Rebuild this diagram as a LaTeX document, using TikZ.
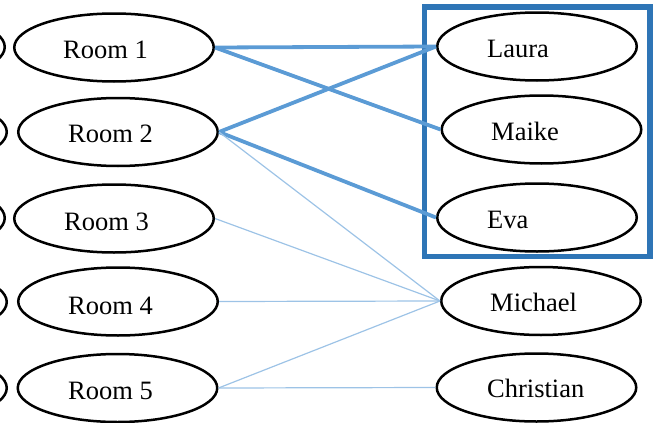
\documentclass[tikz,border=0pt]{standalone}
\usepackage{fontspec}
\setmainfont{Liberation Serif}
\usetikzlibrary{shapes.geometric}
\definecolor{thickblue}{HTML}{5B9BD5}
\definecolor{thinblue}{HTML}{9DC3E6}
\definecolor{boxblue}{HTML}{2E75B6}
\begin{document}
\begin{tikzpicture}[x=1pt,y=-1pt,
  oval/.style={ellipse, draw=black, line width=2.5pt, minimum width=199.5pt, minimum height=68pt, inner sep=0pt},
  lbl/.style={anchor=base west, inner sep=0pt, font=\fontsize{26.5}{30}\selectfont},
  strong/.style={draw=thickblue, line width=3.8pt},
  weak/.style={draw=thinblue, line width=1.2pt},
  groupbox/.style={draw=boxblue, line width=5.5pt}]
\useasboundingbox (0,0) rectangle (656,423);
\clip (0,0) rectangle (656,423);
% left partial ellipses
\node[oval] (L1) at (-95,47) {};
\node[oval] (L2) at (-93,132) {};
\node[oval] (L3) at (-95,218) {};
\node[oval] (L4) at (-93,302) {};
\node[oval] (L5) at (-93,388) {};
% rooms
\node[oval] (R1) at (114,47.5) {};
\node[oval] (R2) at (118,132) {};
\node[oval] (R3) at (114,218.5) {};
\node[oval] (R4) at (118,301.5) {};
\node[oval] (R5) at (117.5,388) {};
% people
\node[oval] (Laura) at (537,46.5) {};
\node[oval] (Maike) at (541.5,129.5) {};
\node[oval] (Eva) at (537,217.5) {};
\node[oval] (Michael) at (541,301) {};
\node[oval] (Christian) at (536.5,387.5) {};
% labels
\node[lbl] (tR1) at (63,58) {Room 1};
\node[lbl] (tR2) at (68,142) {Room 2};
\node[lbl] (tR3) at (64,230) {Room 3};
\node[lbl] (tR4) at (68,314) {Room 4};
\node[lbl] (tR5) at (68,399) {Room 5};
\node[lbl] (tLaura) at (487,57) {Laura};
\node[lbl] (tMaike) at (491,140) {Maike};
\node[lbl] (tEva) at (487,228) {Eva};
\node[lbl] (tMichael) at (490,311) {Michael};
\node[lbl] (tChristian) at (487,397) {Christian};
% group box
\coordinate (boxA) at (424.5,7);
\coordinate (boxB) at (650,256.5);
\draw[groupbox] (boxA) rectangle (boxB);
% connectors
\draw[strong] (R1.east) -- (Laura.west);
\draw[strong] (R1.east) -- (Maike.west);
\draw[strong] (R2.east) -- (Laura.west);
\draw[strong] (R2.east) -- (Eva.west);
\draw[weak] (R2.east) -- (Michael.west);
\draw[weak] (R3.east) -- (Michael.west);
\draw[weak] (R4.east) -- (Michael.west);
\draw[weak] (R5.east) -- (Michael.west);
\draw[weak] (R5.east) -- (Christian.west);
\end{tikzpicture}
\end{document}
